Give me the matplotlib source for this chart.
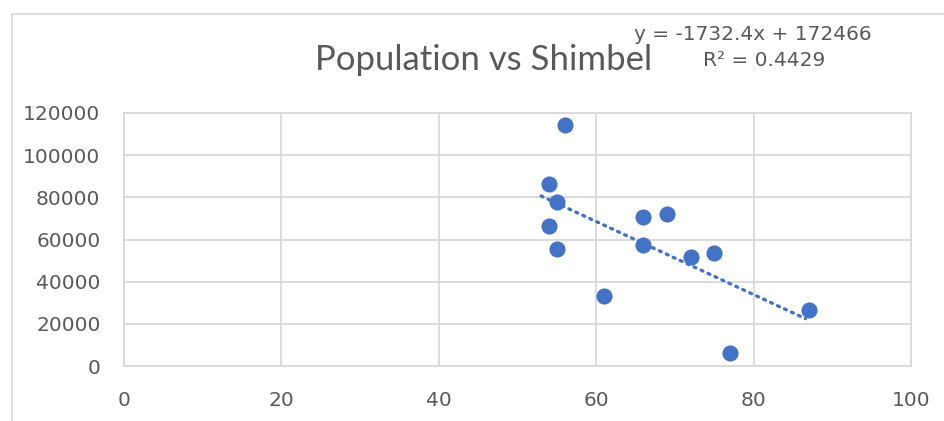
import matplotlib
matplotlib.use('Agg')
import matplotlib.pyplot as plt
from matplotlib.patches import Rectangle
import numpy as np

# values
shimbel = [56, 54, 55, 54, 55, 61, 66, 66, 69, 72, 75, 77, 87]
population = [114170, 86330, 77930, 66400, 55340, 33200, 70530, 57390, 71950, 51860, 53750, 6300, 26560]

# trendline as printed on the chart
slope = -1732.4
intercept = 172466
r2 = 0.4429
trend_x = [53, 86.6]

x_ticks = [0, 20, 40, 60, 80, 100]
y_ticks = [0, 20000, 40000, 60000, 80000, 100000, 120000]

blue = '#4472C4'
grey = '#D9D9D9'
text_grey = '#595959'

plt.rcParams['font.family'] = ['Lato', 'DejaVu Sans']

fig = plt.figure(figsize=(9.44, 4.21), dpi=100)
ax = fig.add_axes([124 / 944, 1 - 366 / 421, (911 - 124) / 944, (366 - 113) / 421])

# chart border (only left and top show in the crop)
fig.patches.append(Rectangle((12 / 944, -0.1), 1.2, 1 - 14 / 421 + 0.1, transform=fig.transFigure,
                             fill=False, edgecolor=grey, linewidth=1.2))

ax.set_xlim(0, 100)
ax.set_ylim(0, 120000)
ax.set_xticks(x_ticks)
ax.set_yticks(y_ticks)
ax.grid(True, color=grey, linewidth=1.3)
ax.set_axisbelow(True)
for s in ax.spines.values():
    s.set_color(grey)
    s.set_linewidth(1.3)
ax.tick_params(length=0, labelsize=14.5, labelcolor=text_grey)
ax.tick_params(axis='x', pad=18)
ax.tick_params(axis='y', pad=17)
for lab in ax.get_xticklabels() + ax.get_yticklabels():
    lab.set_family(['DejaVu Sans'])

tx = np.array(trend_x)
ax.plot(tx, slope * tx + intercept, color=blue, linewidth=2.4,
        linestyle=(0, (0.6, 1.7)), dash_capstyle='round', zorder=2)
ax.scatter(shimbel, population, s=135, color=blue, zorder=3, linewidths=0)

fig.text(484 / 944, 1 - 60 / 421, 'Population vs Shimbel', ha='center', va='center',
         fontsize=25, color=text_grey)
fig.text(753 / 944, 1 - 34 / 421, 'y = -1732.4x + 172466', ha='center', va='center',
         fontsize=14.5, color=text_grey, family=['DejaVu Sans'])
fig.text(764 / 944, 1 - 61 / 421, 'R² = ' + str(r2), ha='center', va='center',
         fontsize=14.5, color=text_grey, family=['DejaVu Sans'])

fig.savefig('out.png', dpi=100)
